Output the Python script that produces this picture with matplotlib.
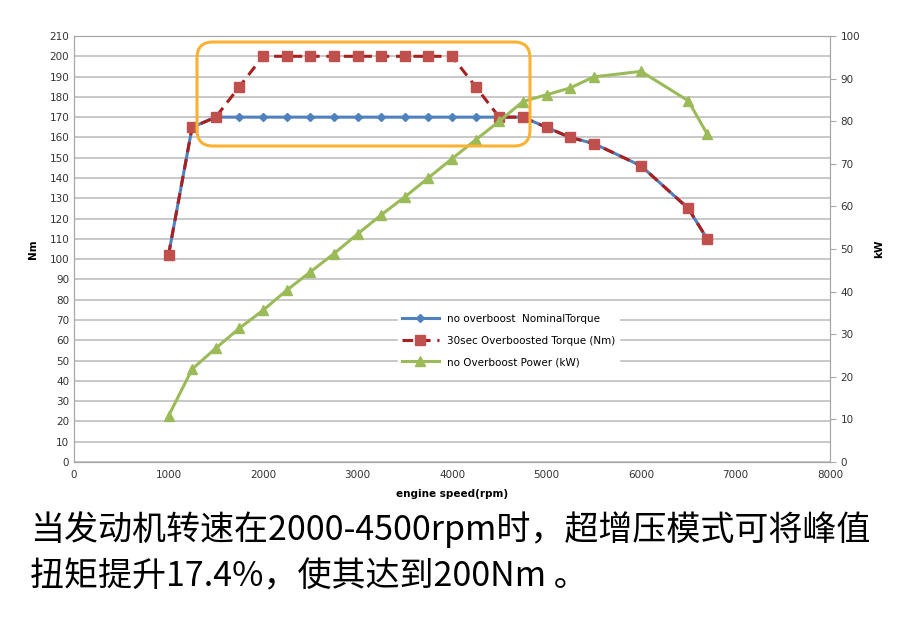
import numpy as np
import matplotlib.pyplot as plt
from matplotlib.patches import FancyBboxPatch

rpm = [1000, 1250, 1500, 1750, 2000, 2250, 2500, 2750, 3000, 3250, 3500, 3750,
       4000, 4250, 4500, 4750, 5000, 5250, 5500, 6000, 6500, 6700]
nominal_torque = [102, 165, 170, 170, 170, 170, 170, 170, 170, 170, 170, 170,
                  170, 170, 170, 170, 165, 160, 157, 146, 125, 110]
boost_torque = [102, 165, 170, 185, 200, 200, 200, 200, 200, 200, 200, 200,
                200, 185, 170, 170, 165, 160, 157, 146, 125, 110]
power_kw = [10.8, 21.8, 26.7, 31.4, 35.6, 40.3, 44.6, 48.9, 53.5, 58.0, 62.2, 66.7,
            71.2, 75.6, 80.0, 84.6, 86.2, 87.8, 90.4, 91.7, 84.8, 77.0]

caption = ["当发动机转速在2000-4500rpm时，超增压模式可将峰值",
           "扭矩提升17.4%，使其达到200Nm 。"]

W, H = 908, 626
fig = plt.figure(figsize=(W / 100, H / 100), dpi=100)
ax = fig.add_axes([74 / W, 1 - 462 / H, 756 / W, 426 / H])
ax2 = ax.twinx()

grid_c = '#bfbfbf'
ax.set_xlim(0, 8000)
ax.set_ylim(0, 210)
ax2.set_ylim(0, 100)
ax.set_yticks(np.arange(0, 211, 10))
ax2.set_yticks(np.arange(0, 101, 10))
ax.set_xticks(np.arange(0, 8001, 1000))
ax.yaxis.grid(True, color=grid_c, lw=1.2)
ax.set_axisbelow(True)

for a in (ax, ax2):
    for s in a.spines.values():
        s.set_color('#a6a6a6')
    a.tick_params(labelsize=7.5, colors='#333333', length=0)
ax2.tick_params(axis='y', length=4, color='#a6a6a6', direction='out')
ax.tick_params(axis='x', pad=6)

ax.plot(rpm, nominal_torque, color='#4f81bd', lw=2.2, marker='D', ms=4.5,
        mfc='#4f81bd', mec='#4f81bd', label='no overboost  NominalTorque', zorder=3)
ax.plot(rpm, boost_torque, color='#a82020', lw=2.2, ls=(0, (3.5, 2.2)), marker='s', ms=7.5,
        mfc='#c0504d', mec='#c0504d', label='30sec Overboosted Torque (Nm)', zorder=4)
ax2.plot(rpm, power_kw, color='#9bbb59', lw=2.2, marker='^', ms=7.5,
         mfc='#9bbb59', mec='#9bbb59', label='no Overboost Power (kW)', zorder=3)

ax.set_ylabel('Nm', fontsize=7.5, fontweight='bold', labelpad=8)
ax2.set_ylabel('kW', fontsize=7.5, fontweight='bold', labelpad=10)
ax.set_xlabel('engine speed(rpm)', fontsize=7.5, fontweight='bold', labelpad=6)

# highlight box (figure coords)
box = FancyBboxPatch((197 / W, 1 - 146 / H), 333 / W, 104 / H,
                     boxstyle='round,pad=0,rounding_size=%f' % (16 / W),
                     mutation_aspect=W / H, transform=fig.transFigure,
                     fill=False, ec='#f9b233', lw=2.2, zorder=5)
fig.add_artist(box)

h1, l1 = ax.get_legend_handles_labels()
h2, l2 = ax2.get_legend_handles_labels()
leg = ax2.legend(h1 + h2, l1 + l2, loc='center', bbox_to_anchor=(0.575, 0.285),
                 fontsize=7.5, frameon=True, fancybox=False, edgecolor='white',
                 framealpha=1, handlelength=3.5, labelspacing=1.1)

for i, line in enumerate(caption):
    fig.text(30 / W, 1 - (530 + i * 47) / H, line, fontsize=24.5, va='center',
             family=['Noto Sans CJK SC', 'DejaVu Sans'])

fig.savefig('out.png', dpi=100)
